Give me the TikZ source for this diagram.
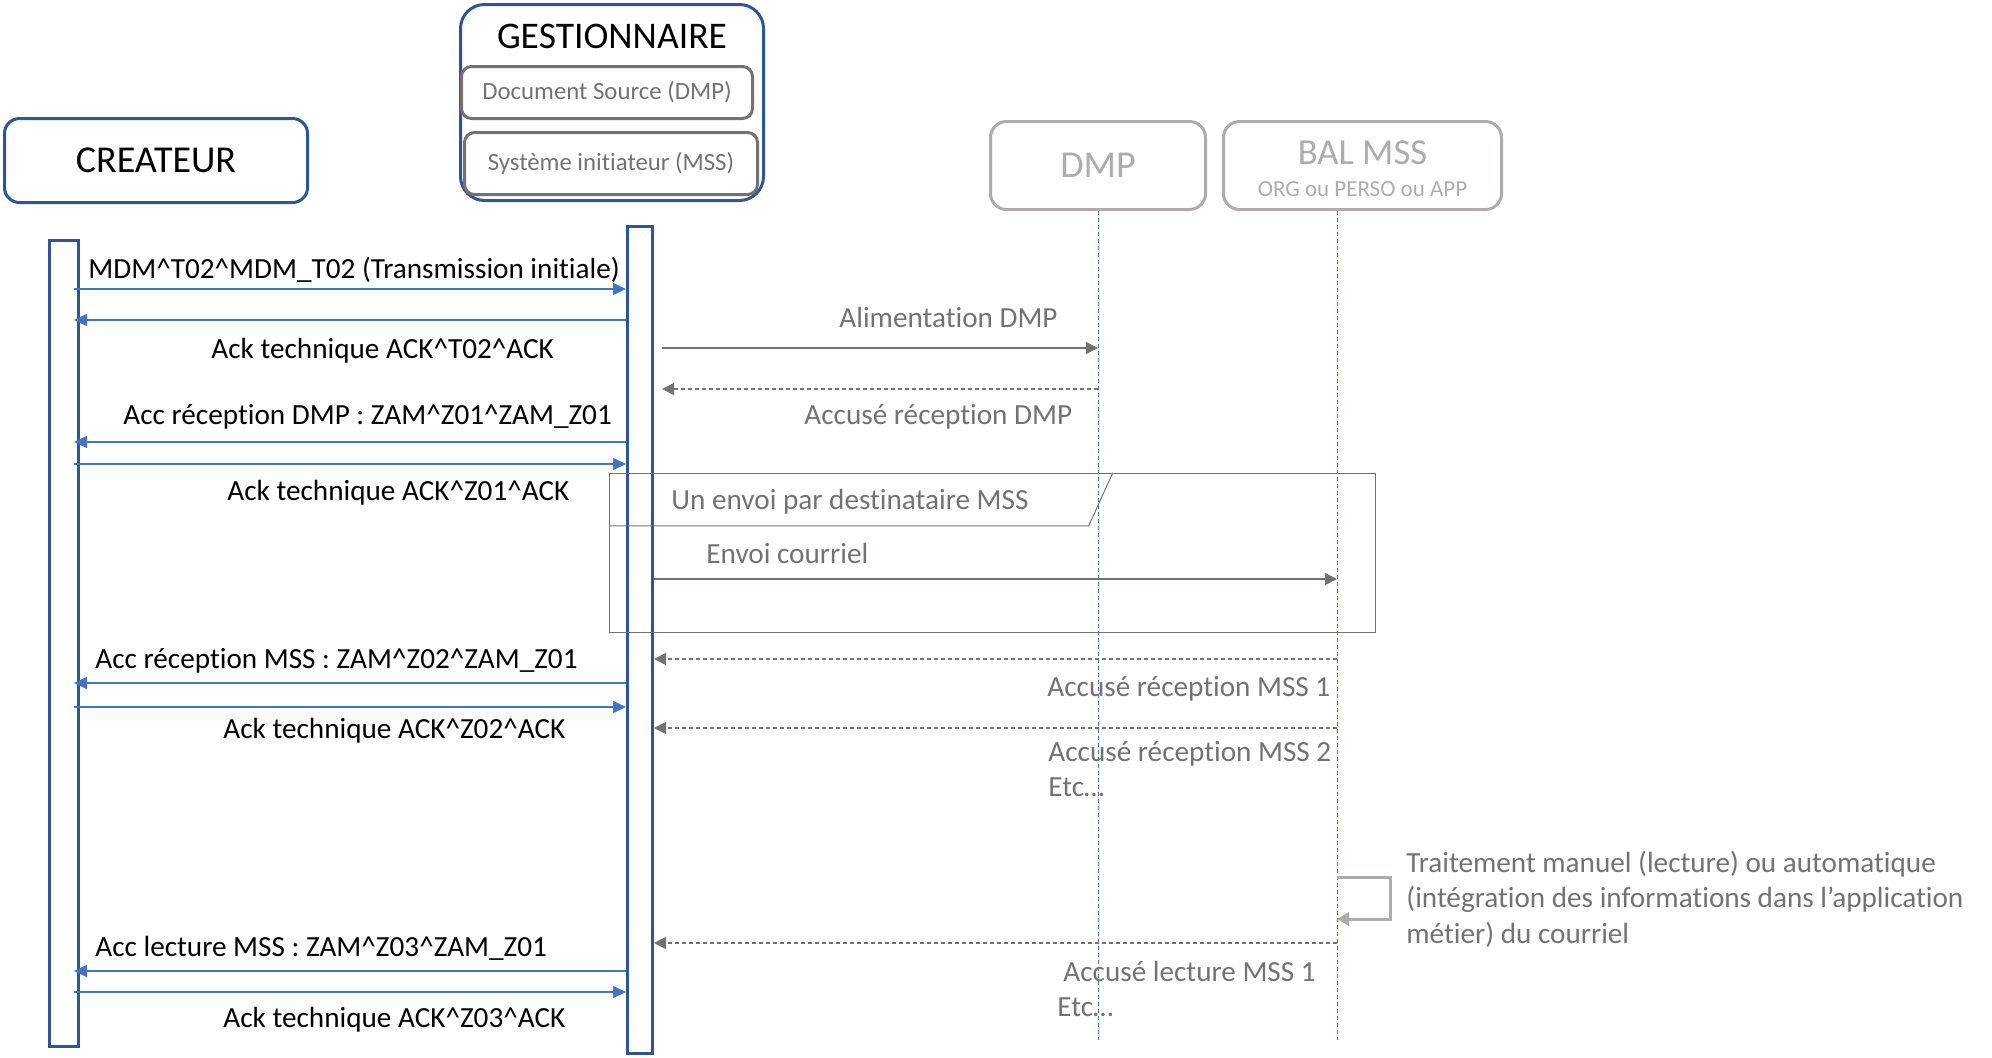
\documentclass[tikz,border=0pt]{standalone}
\usepackage{fontspec}
\setmainfont{Carlito}[Ligatures=NoCommon]
\usetikzlibrary{arrows.meta, positioning, math, calc}
\definecolor{darkBlue}{HTML}{2F5597}
\definecolor{msgBlue}{HTML}{4472C4}
\definecolor{darkGray}{HTML}{767171}
\definecolor{lightGray}{HTML}{AFABAB}
\newcommand{\msgFont}{\fontsize{14.6}{17.6}\selectfont}
\newcommand{\caret}{\textasciicircum}

\begin{document}
\begin{tikzpicture}[
		x=0.5pt,
		y=-0.5pt
	]
	\tikzmath{
		\lifeEnd = 1040;   %bottom of dashed lifelines
		\balX    = 1337;   %BAL lifeline
		\loopR   = 1390;   %right side of self loop
	}
	\tikzstyle{Actor} = [
		draw=darkBlue,
		line width=1.5pt,
		rounded corners=7.5pt,
		text=black
	]
	\tikzstyle{Part} = [
		draw=darkGray,
		line width=1.5pt,
		rounded corners=5pt,
		text=darkGray,
		font=\fontsize{12.4}{14}\selectfont
	]
	\tikzstyle{Remote} = [
		draw=lightGray,
		line width=1.5pt,
		rounded corners=8pt,
		text=lightGray,
		minimum height=44pt
	]
	\tikzstyle{Bar} = [draw=darkBlue, line width=1.5pt, fill=white]
	\tikzstyle{Life} = [msgBlue, line width=0.5pt, dash pattern=on 2pt off 1.5pt]
	\tikzstyle{BlueMsg} = [msgBlue, line width=0.75pt, -{Triangle[length=6.5pt, width=6pt]}]
	\tikzstyle{GrayMsg} = [darkGray, line width=0.75pt, -{Triangle[length=6pt, width=6pt]}]
	\tikzstyle{GrayReply} = [GrayMsg, dash pattern=on 2pt off 1.5pt]
	\tikzstyle{LoopMsg} = [lightGray, line width=1.5pt, -{Triangle[length=6pt, width=6.5pt]}]
	\tikzstyle{Label} = [inner sep=0pt, anchor=base west, font=\msgFont]
	\tikzstyle{GrayLabel} = [Label, text=darkGray]

	\useasboundingbox (0,0) rectangle (1992,1057);

	% message rows
	\coordinate (m1) at (0,289);
	\coordinate (m2) at (0,320);
	\coordinate (m3) at (0,442);
	\coordinate (m4) at (0,464);
	\coordinate (m5) at (0,683);
	\coordinate (m6) at (0,707);
	\coordinate (m7) at (0,971);
	\coordinate (m8) at (0,992);
	\coordinate (r1) at (0,348);
	\coordinate (r2) at (0,389);
	\coordinate (r3) at (0,579);
	\coordinate (r4) at (0,659);
	\coordinate (r5) at (0,728);
	\coordinate (r6) at (0,943);
	\coordinate (lp) at (0,877);
	\coordinate (lifeEnd) at (0,\lifeEnd);
	\coordinate (balTop) at (\balX,211);
	\coordinate (loopCorner) at (\loopR,919);
	\coordinate (inBar) at (-6,0);
	\coordinate (outBar) at (8,0);

	% heads
	\node (creBox) [Actor, minimum width=151.5pt, minimum height=42pt,
		font=\fontsize{19}{22}\selectfont] at (156,160.5) {CREATEUR};
	\node (gesBox) [Actor, rounded corners=12pt, minimum width=151.5pt,
		minimum height=98pt] at (612,102.5) {};
	\node (gesTitle) [font=\fontsize{18.8}{22}\selectfont] at (612,36) {GESTIONNAIRE};
	\node (docBox) [Part, minimum width=145.5pt, minimum height=26pt]
		at (607,92.5) {Document Source (DMP)};
	\node (sysBox) [Part, minimum width=146.5pt, minimum height=31pt]
		at (611,163.5) {Système initiateur (MSS)};
	\node (dmpBox) [Remote, minimum width=107.5pt, font=\fontsize{19}{22}\selectfont]
		at (1098,165.5) {DMP};
	\node (balBox) [Remote, minimum width=139pt] at (1362.5,165.5) {};
	\node (balTitle) [text=lightGray, align=center, font=\fontsize{18.3}{19}\selectfont]
		at (1362.5,168.5)
		{BAL MSS\\[-3pt]{\fontsize{11.5}{13}\selectfont ORG ou PERSO ou APP}};

	% lifelines
	\draw [Life] (dmpBox.south) -- (dmpBox.south |- lifeEnd);
	\draw [Life] (balTop) -- (balTop |- lifeEnd);
	\node (creBar) [Bar, minimum width=14.5pt, minimum height=403pt] at (64,643.5) {};
	\node (gesBar) [Bar, minimum width=12.5pt, minimum height=413.5pt] at (640,640) {};

	% loop frame
	\node (envoiFrame) [draw=darkGray, line width=0.75pt, minimum width=383pt,
		minimum height=79.5pt] at (992.5,553) {};
	\draw [darkGray, line width=0.5pt] ($(envoiFrame.north west) + (0,53)$) --
		++(480,0) --
		++(24,-53);
	\node (lblLoop) [GrayLabel] at (671,509) {Un envoi par destinataire MSS};

	% createur <-> gestionnaire
	\draw [BlueMsg] ($(creBar.east |- m1) + (inBar)$) -- (gesBar.west |- m1);
	\node (lblT02) [Label] at (88,278) {MDM\caret T02\caret MDM\_T02 (Transmission initiale)};
	\draw [BlueMsg] (gesBar.west |- m2) -- ($(creBar.east |- m2) + (inBar)$);
	\node (lblAckT02) [Label] at (211,358) {Ack technique ACK\caret T02\caret ACK};
	\draw [BlueMsg] (gesBar.west |- m3) -- ($(creBar.east |- m3) + (inBar)$);
	\node (lblZ01) [Label] at (123,424) {Acc réception DMP : ZAM\caret Z01\caret ZAM\_Z01};
	\draw [BlueMsg] ($(creBar.east |- m4) + (inBar)$) -- (gesBar.west |- m4);
	\node (lblAckZ01) [Label] at (227,500) {Ack technique ACK\caret Z01\caret ACK};
	\draw [BlueMsg] (gesBar.west |- m5) -- ($(creBar.east |- m5) + (inBar)$);
	\node (lblZ02) [Label] at (95,668) {Acc réception MSS : ZAM\caret Z02\caret ZAM\_Z01};
	\draw [BlueMsg] ($(creBar.east |- m6) + (inBar)$) -- (gesBar.west |- m6);
	\node (lblAckZ02) [Label] at (223,738) {Ack technique ACK\caret Z02\caret ACK};
	\draw [BlueMsg] (gesBar.west |- m7) -- ($(creBar.east |- m7) + (inBar)$);
	\node (lblZ03) [Label] at (95,956) {Acc lecture MSS : ZAM\caret Z03\caret ZAM\_Z01};
	\draw [BlueMsg] ($(creBar.east |- m8) + (inBar)$) -- (gesBar.west |- m8);
	\node (lblAckZ03) [Label] at (223,1027) {Ack technique ACK\caret Z03\caret ACK};

	% gestionnaire <-> DMP / BAL
	\draw [GrayMsg] ($(gesBar.east |- r1) + (outBar)$) -- (dmpBox.south |- r1);
	\node (lblAlim) [GrayLabel] at (839,327) {Alimentation DMP};
	\draw [GrayReply] (dmpBox.south |- r2) -- ($(gesBar.east |- r2) + (outBar)$);
	\node (lblAccDmp) [GrayLabel] at (804,424) {Accusé réception DMP};
	\draw [GrayMsg] (gesBar.east |- r3) -- (balTop |- r3);
	\node (lblEnvoi) [GrayLabel] at (706,563) {Envoi courriel};
	\draw [GrayReply] (balTop |- r4) -- (gesBar.east |- r4);
	\node (lblAccMss1) [GrayLabel] at (1047,696) {Accusé réception MSS 1};
	\draw [GrayReply] (balTop |- r5) -- (gesBar.east |- r5);
	\node (lblAccMss2) [GrayLabel] at (1048,761) {Accusé réception MSS 2};
	\node (lblEtc1) [GrayLabel] at (1048,796) {Etc…};
	\draw [LoopMsg] (balTop |- lp) -| (loopCorner) -- (balTop |- loopCorner);
	\node (lblTraitement) [GrayLabel, align=left] at (1406,943)
		{Traitement manuel (lecture) ou automatique\\
		 (intégration des informations dans l’application\\
		 métier) du courriel};
	\draw [GrayReply] (balTop |- r6) -- (gesBar.east |- r6);
	\node (lblLecture) [GrayLabel] at (1063,981) {Accusé lecture MSS 1};
	\node (lblEtc2) [GrayLabel] at (1057,1016) {Etc…};
\end{tikzpicture}
\end{document}
